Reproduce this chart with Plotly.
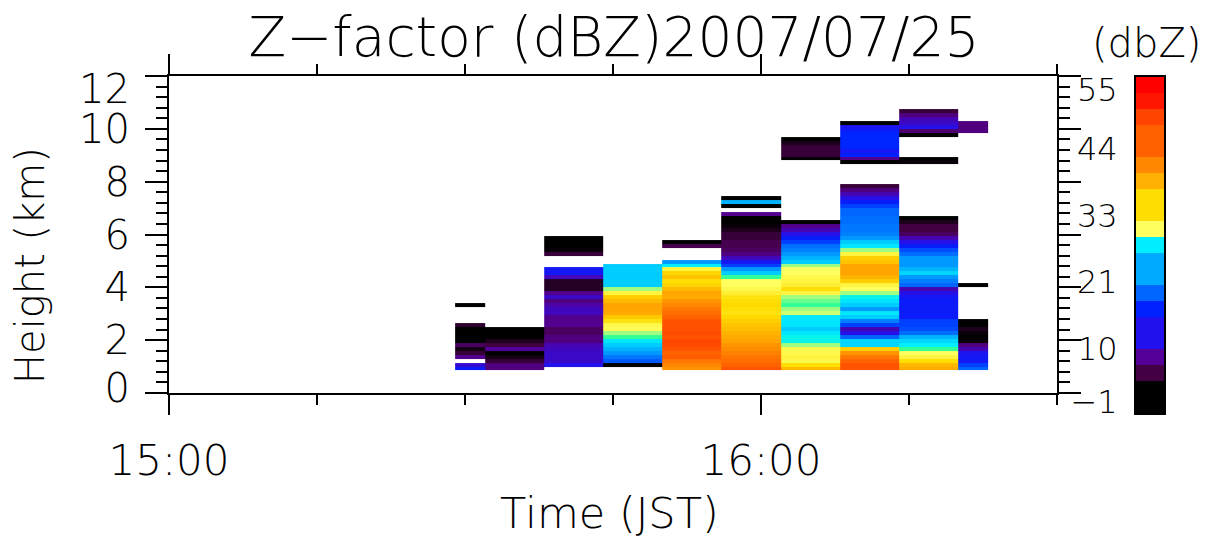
import plotly.graph_objects as go

# ---------------- data ----------------
# scan times, minutes after 15:00 JST
scan_minutes = [29, 35, 41, 47, 53, 59, 65, 71, 77, 83]
scan_labels = ["15:29", "15:35", "15:41", "15:47", "15:53", "15:59", "16:05", "16:11", "16:17", "16:23"]

# radar range gates (km)
gate_km = 0.15
gate0_bottom_km = 0.10
n_gates = 72

N = None
# reflectivity profiles (dBZ), listed from the lowest echo gate upward; None = no echo
# each entry: (bottom height of first listed gate in km, values)
prof_1529 = (0.85, [15, 11, N, 8, 5, 3, 6.5, 0, 0, 0, 2, 4.5, N, N, N, N, 0])
prof_1535 = (0.85, [7.5, 7.5, 5, 3, 0, 8.5, 5.5, 3.5, 0, 0, 0])
prof_1541 = (1.00, [12.5, 10.5, 10.5, 10.5, 10, 9.5, 7.5, 7.5, 6.5, 6.5, 8, 8, 8, 10, 10, 9, 7.5,
                    10.5, 8, 4, 4, 4, 10, 14, 14, N, N, N, 5, 2.5, 0, 0, 0])
prof_1547 = (1.00, [0, 18.5, 20, 22, 23.5, 25, 26.5, 28, 28.8, 30, 30.5, 33, 35.5, 38, 38.5, 38.5,
                    37, 35, 31, 28.8, 25, 25, 25, 25, 25, 25])
prof_1553 = (0.85, [39.5, 40.5, 42, 45, 44, 46, 47, 47.5, 46, 47, 46.5, 46, 46, 44, 43, 42, 40.5,
                    39.5, 38, 38.5, 37, 34.5, 33.5, 36, 34.5, 31, 27, 22, N, N, N, 6, 0])
prof_1559 = (0.85, [46, 44, 43, 42, 41, 40, 39.5, 38.5, 38, 37.5, 36.5, 36, 35, 34, 33, 33.5, 34,
                    33.5, 33, 31.5, 30.5, 29.7, 29.7, 28, 25, 22, 17.5, 14, 10, 7.5, 6.5, 6, 6, 5,
                    5, 3.5, 2.5, 0, 0, 8, N, 0, 23.5, 0])
prof_1605 = (0.85, [37, 33.5, 30.5, 31, 30.5, 30.5, 28.8, 27.2, 27.2, 26.5, 25, 26.3, 26.5, 26.5,
                    29.2, 28.8, 28, 28.4, 28.8, 31, 33.5, 31.5, 31, 30.5, 29.7, 29.7, 28.8, 25,
                    23.5, 22, 20.5, 19.5, 17.5, 15.5, 12, 9.5, 8, 0,
                    N, N, N, N, N, N, N, N, N, N, N, N, N, N, N,
                    0, 5, 5, 5, 3.5, 0])
prof_1611 = (0.85, [46, 46, 44, 42, 39.5, 35, 25.5, 25.5, 19, 12, 9.5, 17.5, 20.5, 25, 26.5, 22,
                    25, 26.3, 27.2, 28.8, 29.7, 31, 35, 37.5, 38.5, 38.5, 38.5, 36, 35, 31, 28.8,
                    26.5, 25, 22, 20.5, 20, 20, 19.5, 19.5, 19, 19, 17.5, 15.5, 12, 9.5, 7.5, 5,
                    N, N, N, N, N,
                    2, 8, 16, 14, 16.5, 16.5, 16.5, 16.5, 15.5, 13, 0])
prof_1617 = (0.85, [38, 37, 33.5, 31, 29.7, 28, 27, 25.5, 23.5, 19.5, 18, 17.5, 17.5, 15, 15, 15,
                    15, 15, 14, 12, 9.5, 19, 20.5, 22, 25.5, 23.5, 22, 22, 22, 19.5, 18, 15.5, 12,
                    9.5, 6.5, 5.5, 5.5, 3.5, 0,
                    N, N, N, N, N, N, N, N, N, N, N, N, N,
                    2.5, 0, N, N, N, N, N, 0, 7, 12, 10.5, 9.5, 7.5, 5])
prof_1623 = (0.85, [19, 17.5, 14, 14, 13, 9.5, 7.5, 2.5, 0, 2.5, 3.5, 0, 0,
                    N, N, N, N, N, N, N, N, 0] + [N] * 38 + [7.5, 7.5, 7.5])

profiles = [prof_1529, prof_1535, prof_1541, prof_1547, prof_1553,
            prof_1559, prof_1605, prof_1611, prof_1617, prof_1623]

# height axis labels (the top one sits a little below its tick, as in the original)
height_ticktext = ["0", "2", "4", "6", "8", "10", "12"]
height_labelpos = [0.2, 2, 4, 6, 8, 10, 11.5]

# colour table (dBZ -> colour) of the reflectivity palette
scale_dbz = [-1, 2.0, 5.67, 8.33, 12.33, 16.33, 19.0, 23.0, 27.0, 28.0, 28.8, 29.67,
             33.67, 37.67, 40.33, 44.33, 48.33, 51.0, 53.67, 55]
scale_colors = ["#000000", "#000000", "#440044", "#550099", "#2211EE", "#0022FF", "#0066FF",
                "#00AAFF", "#00F0FF", "#33FF99", "#A0FF80", "#FFFF60", "#FFDD00", "#FFB000",
                "#FF8800", "#FF6000", "#FF4000", "#FF1400", "#FF0000", "#FF0000"]
zmin, zmax = -1, 55

# colour-bar steps (21 levels from -1 to 55 dBZ)
bar_colors = ["#000000", "#000000", "#440044", "#550099", "#2211EE", "#2211EE", "#0022FF",
              "#0066FF", "#00AAFF", "#00AAFF", "#00EEFF", "#FFFF60", "#FFDD00", "#FFDD00",
              "#FFB000", "#FF8800", "#FF6000", "#FF6000", "#FF4400", "#FF1500", "#FF0000"]
bar_ticktext = ["\u22121", "10", "21", "33", "44", "55"]
bar_tickvals = [0.8, 9.7, 20.8, 31.9, 43.1, 52.8]

# ---------------- build grid ----------------
gate_centers = [gate0_bottom_km + gate_km * (k + 0.5) for k in range(n_gates)]
z = [[None] * len(scan_minutes) for _ in range(n_gates)]
for j, (start_km, vals) in enumerate(profiles):
    k0 = int(round((start_km - gate0_bottom_km) / gate_km))
    for i, v in enumerate(vals):
        if k0 + i < n_gates:
            z[k0 + i][j] = v

# cell edges in time: from first scan, half-way between scans, to last scan
x_edges = [scan_minutes[0]] + [(a + b) / 2 for a, b in zip(scan_minutes[:-1], scan_minutes[1:])] + [scan_minutes[-1]]

span = zmax - zmin
colorscale = [[(d - zmin) / span, c] for d, c in zip(scale_dbz, scale_colors)]

nb = len(bar_colors)
bar_scale = []
for b, c in enumerate(bar_colors):
    bar_scale.append([b / nb, c])
    bar_scale.append([(b + 1) / nb, c])
bar_step = span / nb
bar_centers = [zmin + bar_step * (b + 0.5) for b in range(nb)]

FONT = "DejaVu Sans"
WT = 200
fig = go.Figure()
fig.add_trace(go.Heatmap(
    x=x_edges, y=gate_centers, z=z, zmin=zmin, zmax=zmax,
    colorscale=colorscale, showscale=False, zsmooth=False, hoverongaps=False,
    xaxis="x", yaxis="y"))
# empty trace so that the label-only height axis is drawn
fig.add_trace(go.Scatter(x=[], y=[], xaxis="x", yaxis="y3", hoverinfo="skip",
                         showlegend=False))
fig.add_trace(go.Heatmap(
    x=[0], y=bar_centers, z=[[b] for b in range(nb)], zmin=-0.5, zmax=nb - 0.5,
    colorscale=bar_scale, showscale=False, zsmooth=False, hoverinfo="skip",
    xaxis="x2", yaxis="y2"))

W, H = 1212, 542
ml, mr, mt, mb = 169, 48, 76, 129
pw, ph = W - ml - mr, H - mt - mb


def px_x(x):
    return (x - ml) / pw


def px_y(y):
    return (H - mb - y) / ph


def fnt(size):
    return dict(family=FONT, size=size, color="black", weight=WT)


axis_common = dict(showline=True, linecolor="black", linewidth=2, mirror="ticks",
                   ticks="outside", tickcolor="black", tickwidth=2, showgrid=False,
                   zeroline=False, automargin=False, tickfont=fnt(42))

fig.update_layout(
    width=W, height=H, margin=dict(l=ml, r=mr, t=mt, b=mb, autoexpand=False),
    paper_bgcolor="white", plot_bgcolor="white", showlegend=False,
    font=dict(family=FONT, color="black", weight=WT),
    title=dict(text="Z\u2212factor (dBZ)2007/07/25", x=614 / W, xanchor="center",
               y=1 - 37 / H, yanchor="middle", xref="container", yref="container",
               automargin=False, font=fnt(55)),
    xaxis=dict(domain=[0, px_x(1057)], range=[0, 90], tickvals=[0, 60],
               ticktext=["15:00", "16:00"], ticklen=20, ticklabelstandoff=10,
               minor=dict(dtick=15, tick0=0, ticklen=10, tickwidth=2, tickcolor="black",
                          ticks="outside", showgrid=False),
               anchor="y", **axis_common),
    yaxis=dict(domain=[px_y(393), 1], range=[0, 12], tick0=0, dtick=2, ticklen=22,
               showticklabels=False,
               minor=dict(dtick=0.4, tick0=0, ticklen=11, tickwidth=2, tickcolor="black",
                          ticks="outside", showgrid=False),
               anchor="x", **axis_common),
    yaxis3=dict(overlaying="y", side="left", anchor="x", range=[0, 12],
                tickvals=height_labelpos, ticktext=height_ticktext, ticks="", ticklen=0,
                ticklabelstandoff=38, showline=False, showgrid=False, zeroline=False,
                automargin=False, tickfont=fnt(40)),
    xaxis2=dict(domain=[px_x(1136), px_x(1164)], range=[-0.5, 0.5], anchor="y2",
                showticklabels=False, ticks="", showline=True, mirror=True, automargin=False,
                linecolor="black", linewidth=2, showgrid=False, zeroline=False),
    yaxis2=dict(domain=[0, px_y(77)], range=[zmin, zmax], anchor="x2",
                tickvals=bar_tickvals, ticktext=bar_ticktext, ticks="", automargin=False,
                ticklabelstandoff=10, showline=True, mirror=True, linecolor="black",
                linewidth=2, showgrid=False, zeroline=False, tickfont=fnt(32)),
    annotations=[
        dict(text="Height (km)", textangle=-90, xref="paper", yref="paper",
             x=px_x(30), y=px_y(266), xanchor="center", yanchor="middle", showarrow=False,
             font=fnt(40)),
        dict(text="Time (JST)", xref="paper", yref="paper",
             x=px_x(609), y=px_y(513), xanchor="center", yanchor="middle", showarrow=False,
             font=fnt(43)),
        dict(text="(dbZ)", xref="paper", yref="paper", x=px_x(1146), y=px_y(43),
             xanchor="center", yanchor="middle", showarrow=False, font=fnt(40)),
    ],
)

fig.write_html("out.html", config={"displayModeBar": False},
               post_script="document.body.style.margin='0';")
